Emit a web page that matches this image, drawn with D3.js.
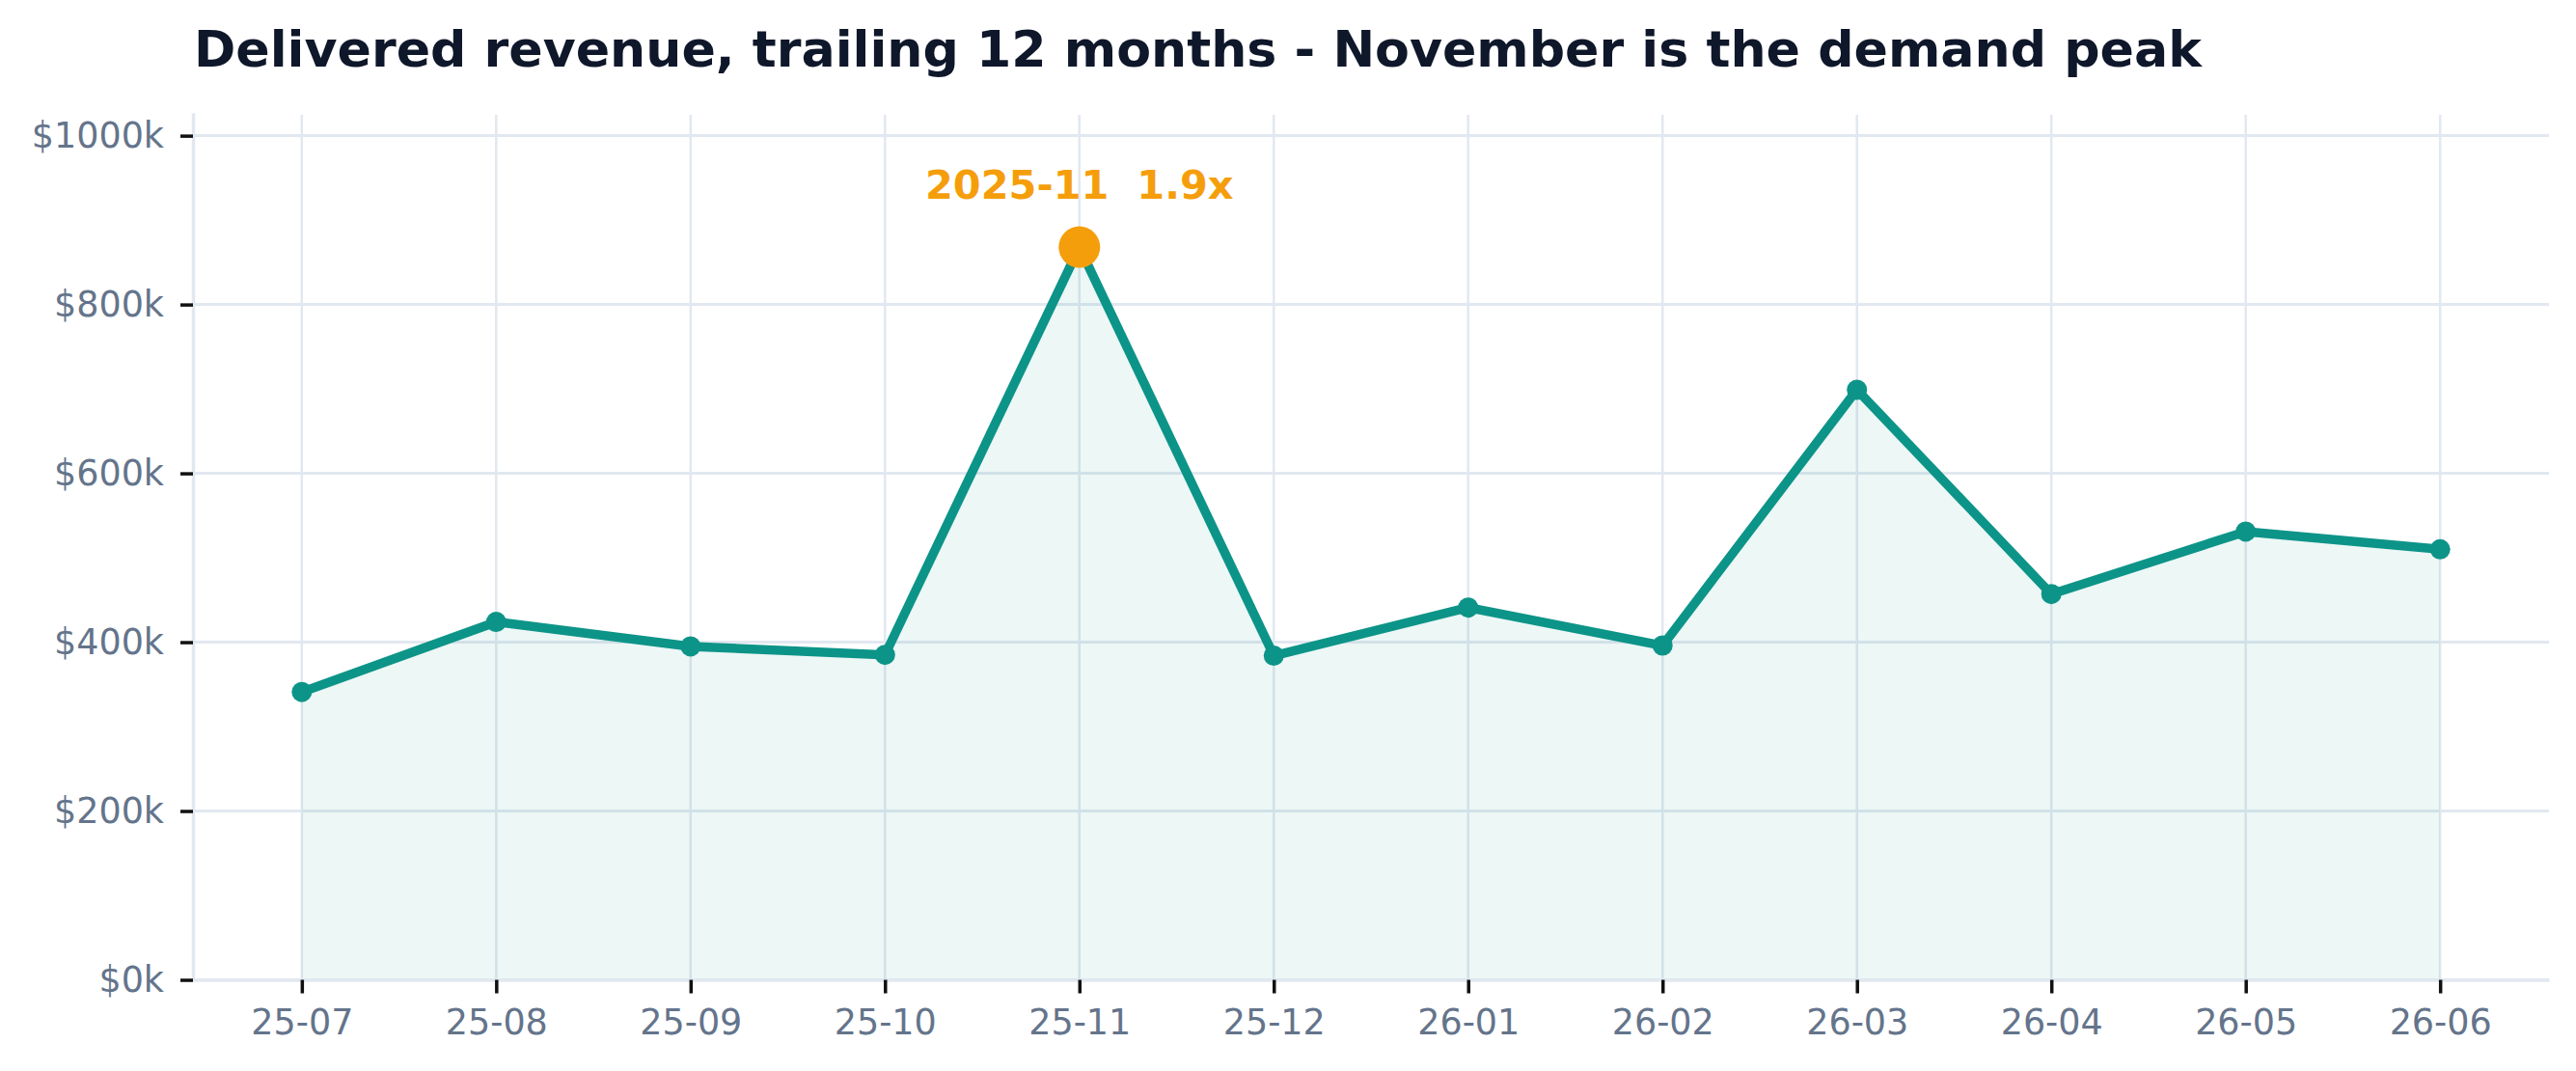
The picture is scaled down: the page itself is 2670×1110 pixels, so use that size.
<!DOCTYPE html>
<html>
<head>
<meta charset="utf-8">
<script src="https://cdn.jsdelivr.net/npm/d3@7"></script>
<style>
    html, body { margin: 0; padding: 0; background: #ffffff; }
    svg { display: block; }
</style>
</head>
<body>
<svg id="chart"></svg>
<script>
// chart values
var months = ["25-07", "25-08", "25-09", "25-10", "25-11", "25-12",
    "26-01", "26-02", "26-03", "26-04", "26-05", "26-06"];
var revenueK = [341, 424, 395, 385, 868, 384, 441, 396, 699, 457, 531, 510];
var yTicks = [0, 200, 400, 600, 800, 1000];
var peakMonth = "25-11";
var peakLabel = "2025-11  1.9x";
var titleText = "Delivered revenue, trailing 12 months - November is the demand peak";

var width = 2670, height = 1110;
var plot = {left: 200, right: 2642, top: 117, bottom: 1015.5};
var teal = "#0d9488", amber = "#f59e0b", gridColor = "#e2e8f0";

var svg = d3.select("#chart").attr("width", width).attr("height", height);

var x = d3.scalePoint()
    .domain(months)
    .range([plot.left, plot.right])
    .padding(0.56);

var y = d3.scaleLinear()
    .domain([0, 1027])
    .range([plot.bottom, plot.top]);

var data = months.map(function (m, i) {
    return {month: m, value: revenueK[i]};
});

// grid first, everything else on top of it
var grid = svg.append("g");
grid.selectAll("line.v")
    .data(months)
    .enter().append("line")
    .attr("class", "v")
    .attr("x1", function (d) { return x(d); })
    .attr("x2", function (d) { return x(d); })
    .attr("y1", plot.top + 2)
    .attr("y2", plot.bottom)
    .attr("stroke", gridColor)
    .attr("stroke-width", 2.5);
grid.selectAll("line.h")
    .data(yTicks)
    .enter().append("line")
    .attr("class", "h")
    .attr("x1", plot.left)
    .attr("x2", plot.right)
    .attr("y1", function (d) { return y(d); })
    .attr("y2", function (d) { return y(d); })
    .attr("stroke", gridColor)
    .attr("stroke-width", 3);

var area = d3.area()
    .x(function (d) { return x(d.month); })
    .y0(y(0))
    .y1(function (d) { return y(d.value); });

var line = d3.line()
    .x(function (d) { return x(d.month); })
    .y(function (d) { return y(d.value); });

svg.append("path")
    .datum(data)
    .attr("d", area)
    .attr("fill", teal)
    .attr("fill-opacity", 0.08);

svg.append("path")
    .datum(data)
    .attr("d", line)
    .attr("fill", "none")
    .attr("stroke", teal)
    .attr("stroke-width", 9.5)
    .attr("stroke-linejoin", "round");

svg.selectAll("circle.pt")
    .data(data)
    .enter().append("circle")
    .attr("class", "pt")
    .attr("cx", function (d) { return x(d.month); })
    .attr("cy", function (d) { return y(d.value); })
    .attr("r", 10.5)
    .attr("fill", teal);

// axes
var xAxis = svg.append("g")
    .attr("transform", "translate(0," + plot.bottom + ")")
    .call(d3.axisBottom(x).tickSizeInner(14).tickSizeOuter(0).tickPadding(17));

var yAxis = svg.append("g")
    .attr("transform", "translate(" + plot.left + ",0)")
    .call(d3.axisLeft(y).tickValues(yTicks).tickSizeInner(13).tickSizeOuter(0).tickPadding(17)
        .tickFormat(function (d) { return "$" + d + "k"; }));

[xAxis, yAxis].forEach(function (ax) {
    ax.select(".domain").attr("stroke", gridColor).attr("stroke-width", 3.5);
    ax.selectAll(".tick line").attr("stroke", "#111111").attr("stroke-width", 3.5);
    ax.selectAll(".tick text")
        .attr("fill", "#64748b")
        .style("font-family", "DejaVu Sans")
        .style("font-size", "36.5px");
});

// peak highlight
var peak = data.filter(function (d) { return d.month === peakMonth; })[0];
svg.append("circle")
    .attr("cx", x(peak.month))
    .attr("cy", y(peak.value))
    .attr("r", 21.5)
    .attr("fill", amber);

svg.append("text")
    .attr("x", x(peak.month))
    .attr("y", y(peak.value) - 50)
    .attr("text-anchor", "middle")
    .attr("fill", amber)
    .style("font-family", "DejaVu Sans")
    .style("font-weight", "bold")
    .style("font-size", "41.5px")
    .style("white-space", "pre")
    .text(peakLabel);

svg.append("text")
    .attr("x", 201)
    .attr("y", 69)
    .attr("fill", "#0f172a")
    .style("font-family", "DejaVu Sans")
    .style("font-weight", "bold")
    .style("font-size", "52.2px")
    .text(titleText);
</script>
</body>
</html>
